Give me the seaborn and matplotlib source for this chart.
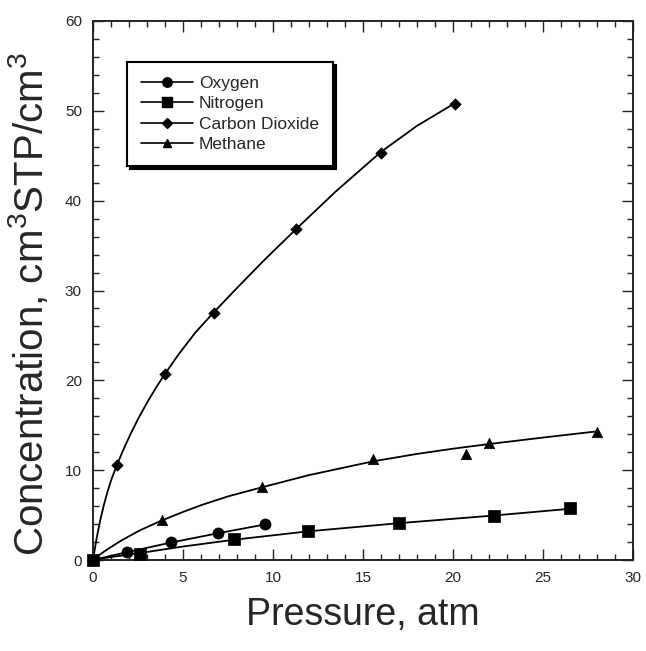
import matplotlib
matplotlib.use("Agg")
import matplotlib.pyplot as plt
import seaborn as sns
import pandas as pd
from matplotlib.lines import Line2D
from matplotlib.ticker import MultipleLocator

# ---- measured data points ----
o2_p = [0.0, 1.89, 4.35, 6.94, 9.57]
o2_c = [0.0, 0.85, 2.04, 2.96, 3.96]
n2_p = [0.0, 2.63, 7.81, 11.94, 16.98, 22.26, 26.5]
n2_c = [0.0, 0.67, 2.30, 3.26, 4.07, 4.93, 5.74]
co2_p = [0.0, 1.33, 4.0, 6.7, 11.3, 16.0, 20.1]
co2_c = [0.0, 10.6, 20.7, 27.5, 36.8, 45.3, 50.8]
ch4_p = [0.0, 3.83, 9.4, 15.55, 20.74, 22.0, 28.0]
ch4_c = [0.0, 4.4, 8.1, 11.2, 11.85, 13.0, 14.3]

# ---- fitted curves ----
o2_fit_p = [0.0, 1.0, 2.0, 4.35, 7.0, 9.57]
o2_fit_c = [0.0, 0.47, 0.92, 1.95, 3.0, 3.96]
n2_fit_p = [0.0, 1.0, 2.63, 5.0, 7.81, 12.0, 17.0, 22.26, 26.5]
n2_fit_c = [0.0, 0.33, 0.78, 1.5, 2.25, 3.2, 4.1, 4.95, 5.7]
co2_fit_p = [0.0, 0.2, 0.4, 0.6, 0.8, 1.0, 1.33, 1.7, 2.1, 2.5, 3.0, 3.5, 4.0,
             4.8, 5.7, 6.7, 8.0, 9.5, 11.3, 13.5, 16.0, 18.0, 20.1]
co2_fit_c = [0.0, 2.4, 4.4, 6.1, 7.56, 8.84, 10.6, 12.34, 14.08, 15.68, 17.51, 19.18, 20.73,
             23.01, 25.35, 27.55, 30.28, 33.36, 36.87, 41.05, 45.43, 48.33, 50.85]
ch4_fit_p = [0.0, 0.5, 1.0, 1.6, 2.6, 3.83, 5.0, 6.0, 7.5, 9.4, 12.0, 15.55, 18.0, 20.0, 22.0, 25.0, 28.0]
ch4_fit_c = [0.0, 0.78, 1.45, 2.2, 3.3, 4.41, 5.35, 6.1, 7.08, 8.1, 9.45, 10.98, 11.81, 12.39, 12.91, 13.63, 14.32]

gases = ["Oxygen", "Nitrogen", "Carbon Dioxide", "Methane"]
markers = {"Oxygen": "o", "Nitrogen": "s", "Carbon Dioxide": "D", "Methane": "^"}
msize = {"Oxygen": 8.0, "Nitrogen": 8.5, "Carbon Dioxide": 5.8, "Methane": 7.5}

pts = {"Oxygen": (o2_p, o2_c), "Nitrogen": (n2_p, n2_c),
       "Carbon Dioxide": (co2_p, co2_c), "Methane": (ch4_p, ch4_c)}
fits = {"Oxygen": (o2_fit_p, o2_fit_c), "Nitrogen": (n2_fit_p, n2_fit_c),
        "Carbon Dioxide": (co2_fit_p, co2_fit_c), "Methane": (ch4_fit_p, ch4_fit_c)}

sns.set_style("ticks")
plt.rcParams["font.family"] = ["Liberation Sans", "DejaVu Sans"]
plt.rcParams["mathtext.fontset"] = "custom"
plt.rcParams["mathtext.rm"] = "Liberation Sans"

fig = plt.figure(figsize=(6.46, 6.51), dpi=100)
ax = fig.add_axes([93 / 646, (651 - 560) / 651, 540 / 646, 539 / 651])

for g in gases:
    fp, fc = fits[g]
    dff = pd.DataFrame({"p": fp, "c": fc})
    sns.lineplot(data=dff, x="p", y="c", ax=ax, color="black", lw=1.3,
                 sort=False, estimator=None, legend=False)
    pp, pc = pts[g]
    dfp = pd.DataFrame({"p": pp, "c": pc})
    sns.scatterplot(data=dfp, x="p", y="c", ax=ax, marker=markers[g],
                    s=msize[g] ** 2, color="black", edgecolor="black",
                    linewidth=0.5, legend=False, zorder=3, clip_on=False)

ax.set_xlim(0, 30)
ax.set_ylim(0, 60)
ax.xaxis.set_major_locator(MultipleLocator(5))
ax.xaxis.set_minor_locator(MultipleLocator(1))
ax.yaxis.set_major_locator(MultipleLocator(10))
ax.yaxis.set_minor_locator(MultipleLocator(2))
ax.tick_params(which="both", direction="in", top=True, right=True,
               color="#222222", width=1.0)
ax.tick_params(which="major", length=8, labelsize=11, pad=8)
ax.tick_params(which="minor", length=4)
for s in ax.spines.values():
    s.set_linewidth(1.4)
    s.set_color("#222222")

ax.set_xlabel("Pressure, atm", fontsize=27)
ax.set_ylabel(r"Concentration, cm$^\mathregular{3}$STP/cm$^\mathregular{3}$", fontsize=29)
ax.xaxis.set_label_coords(0.5, -0.068)
ax.yaxis.set_label_coords(-0.078, 0.475)

handles = [Line2D([0], [0], color="black", lw=1.2, marker=markers[g],
                  markersize=msize[g] * 0.85, markerfacecolor="black",
                  markeredgecolor="black") for g in gases]
leg = ax.legend(handles, gases, loc="upper left",
                bbox_to_anchor=((127 - 93) / 540, (560 - 62) / 539),
                fontsize=12.5, frameon=True, fancybox=False,
                shadow={"color": "black", "alpha": 1.0},
                handlelength=3.0, handletextpad=0.35, labelspacing=0.3,
                borderpad=0.8, borderaxespad=0.0)
leg.get_frame().set_edgecolor("black")
leg.get_frame().set_linewidth(1.5)
leg.get_frame().set_facecolor("white")
leg.get_frame().set_alpha(1.0)

fig.savefig("out.png", dpi=100)
